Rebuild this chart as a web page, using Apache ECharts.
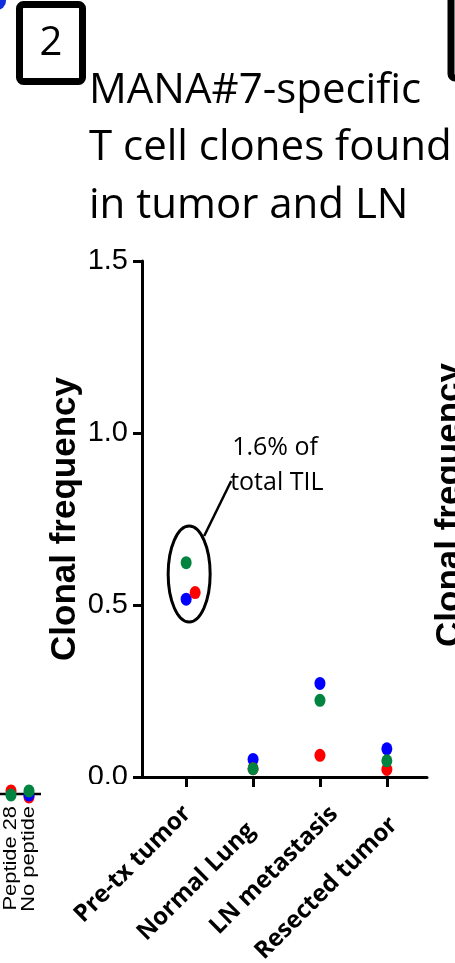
<!DOCTYPE html>
<html>
<head>
<meta charset="utf-8">
<script src="https://cdn.jsdelivr.net/npm/echarts@6/dist/echarts.min.js"></script>
<style>
html,body{margin:0;padding:0;background:#fff;}
#c{width:455px;height:963px;}
</style>
</head>
<body>
<div id="c"></div>
<script>
const categories = ['Pre-tx tumor', 'Normal Lung', 'LN metastasis', 'Resected tumor'];
const blueVals  = [0.517, 0.051, 0.272, 0.082];
const redVals   = [0.536, 0.024, 0.063, 0.022];
const greenVals = [0.623, 0.024, 0.223, 0.047];
const yTickLabels = ['0.0', '0.5', '1.0', '1.5'];
const titleLines = ['MANA#7-specific', 'T cell clones found', 'in tumor and LN'];
const noteLines = ['1.6% of', 'total TIL'];
const legendFragment = ['Peptide 28', 'No peptide'];

const BLUE = '#0000ff', RED = '#ff0000', GREEN = '#00843f';
const chart = echarts.init(document.getElementById('c'), null, {renderer: 'canvas'});

function pts(vals, offsets) {
  return vals.map((v, i) => {
    const item = {value: [i, v]};
    if (offsets && offsets[i]) item.symbolOffset = [offsets[i], 0];
    return item;
  });
}
const symSize = [11, 13];
const idx = categories.map((c, i) => i);
const narrow = '"Liberation Sans Narrow", "Arial Narrow", "Liberation Sans", Arial, sans-serif';
const labelFont = '"Open Sans", "Noto Sans", sans-serif';
// per-label nudges (padding) reproducing the irregular label placement of the source
const labelRich = {
  l0: {padding: [21, 9, 0, 0]},
  l1: {padding: [41, 23, 0, 0]},
  l2: {padding: [40, 0, 0, 0]},
  l3: {padding: [45, 13, 0, 0]}
};
Object.keys(labelRich).forEach(k => Object.assign(labelRich[k], {fontFamily: labelFont, fontWeight: 'bold', fontSize: 24, color: '#000'}));

chart.setOption({
  animation: false,
  backgroundColor: '#fff',
  grid: {left: 142, right: 28, top: 261, bottom: 186, containLabel: false, outerBoundsMode: 'none'},
  xAxis: {
    type: 'value', min: -0.66, max: 3.6,
    splitLine: {show: false},
    axisLine: {show: true, onZero: false, lineStyle: {color: '#000', width: 3}},
    axisTick: {show: true, customValues: idx, length: 10, inside: false, lineStyle: {color: '#000', width: 3}},
    axisLabel: {
      customValues: idx,
      formatter: v => { const i = Math.round(v); return '{l' + i + '|' + categories[i] + '}'; },
      rich: labelRich,
      rotate: 45, margin: 19,
      fontFamily: labelFont, fontWeight: 'bold', fontSize: 24, color: '#000'
    }
  },
  yAxis: {
    type: 'value', min: 0, max: 1.5, interval: 0.5,
    splitLine: {show: false},
    axisLine: {show: true, onZero: false, lineStyle: {color: '#000', width: 3}},
    axisTick: {show: true, length: 9, lineStyle: {color: '#000', width: 3}},
    axisLabel: {
      formatter: v => yTickLabels[Math.round(v / 0.5)],
      fontFamily: narrow, fontSize: 29, color: '#000', margin: 14
    },
    name: 'Clonal frequency', nameLocation: 'middle', nameRotate: 90, nameGap: 59,
    nameMoveOverlap: false,
    nameTextStyle: {fontFamily: '"Liberation Sans", Arial, sans-serif', fontWeight: 'bold', fontSize: 35, color: '#000'}
  },
  series: [
    {type: 'scatter', name: 'blue', data: pts(blueVals), symbol: 'circle', symbolSize: symSize, itemStyle: {color: BLUE, opacity: 1}, z: 3},
    {type: 'scatter', name: 'red', data: pts(redVals, [9, 0, 0, 0]), symbol: 'circle', symbolSize: symSize, itemStyle: {color: RED, opacity: 1}, z: 4},
    {type: 'scatter', name: 'green', data: pts(greenVals), symbol: 'circle', symbolSize: symSize, itemStyle: {color: GREEN, opacity: 1}, z: 5}
  ]
});

// annotation anchored to the Pre-tx tumor cluster
const anchor = chart.convertToPixel({gridIndex: 0}, [0, 0.59]);
const cx = anchor[0] + 3, cy = anchor[1];
const titleFont = '"Open Sans", "Noto Sans", sans-serif';

const graphics = [
  // top-left blue fragment
  {type: 'circle', shape: {cx: -3, cy: 1, r: 9}, style: {fill: '#1030e0'}},
  // boxed "2"
  {type: 'rect', shape: {x: 19.5, y: 4.5, width: 63, height: 77, r: 4}, style: {fill: '#fff', stroke: '#000', lineWidth: 7}},
  {type: 'text', x: 51, y: 44, style: {text: '2', font: '40px ' + titleFont, fill: '#000', align: 'center', verticalAlign: 'middle'}},
  // partial box at right edge
  {type: 'rect', shape: {x: 451, y: -10, width: 60, height: 88, r: 4}, style: {fill: '#fff', stroke: '#000', lineWidth: 7}},
  // partial y title of next panel
  {type: 'text', x: 450, y: 505, rotation: Math.PI / 2, style: {text: 'Clonal frequency', font: 'bold 35px "Liberation Sans", Arial, sans-serif', fill: '#000', align: 'center', verticalAlign: 'middle'}},
  // ellipse + connector
  {type: 'ellipse', shape: {cx: cx, cy: cy, rx: 21, ry: 48}, style: {fill: 'none', stroke: '#000', lineWidth: 3}, z: 10},
  {type: 'line', shape: {x1: cx + 15, y1: cy - 38, x2: cx + 42, y2: cy - 93}, style: {stroke: '#000', lineWidth: 2.5}, z: 10},
  // mask clipping the bottom of the 0.0 label as in the source image
  {type: 'rect', shape: {x: 60, y: 784, width: 70, height: 14}, style: {fill: '#fff'}, z: 20},
  // left legend fragment of the previous panel
  {type: 'line', shape: {x1: 0, y1: 794, x2: 41, y2: 794}, style: {stroke: '#000', lineWidth: 2.5}},
  {type: 'line', shape: {x1: 11, y1: 794, x2: 11, y2: 801}, style: {stroke: '#000', lineWidth: 2}},
  {type: 'line', shape: {x1: 29, y1: 794, x2: 29, y2: 801}, style: {stroke: '#000', lineWidth: 2}},
  {type: 'ellipse', shape: {cx: 11, cy: 791, rx: 5.5, ry: 6.5}, style: {fill: RED}},
  {type: 'ellipse', shape: {cx: 11, cy: 795, rx: 5.5, ry: 6.5}, style: {fill: GREEN}},
  {type: 'ellipse', shape: {cx: 29, cy: 797, rx: 5.5, ry: 6.5}, style: {fill: RED}},
  {type: 'ellipse', shape: {cx: 29, cy: 795, rx: 5.5, ry: 6.5}, style: {fill: BLUE}},
  {type: 'ellipse', shape: {cx: 29, cy: 791, rx: 5.5, ry: 6.5}, style: {fill: GREEN}},
  {type: 'text', x: 11, y: 806, rotation: Math.PI / 2, scaleX: 1.15, style: {text: legendFragment[0], font: '19px "Liberation Sans", Arial, sans-serif', fill: '#000', align: 'right', verticalAlign: 'middle'}},
  {type: 'text', x: 29, y: 806, rotation: Math.PI / 2, scaleX: 1.15, style: {text: legendFragment[1], font: '19px "Liberation Sans", Arial, sans-serif', fill: '#000', align: 'right', verticalAlign: 'middle'}}
];
titleLines.forEach((t, i) => {
  graphics.push({type: 'text', x: 89, y: 91 + i * 57.5, style: {text: t, font: '42px ' + titleFont, fill: '#000', align: 'left', verticalAlign: 'middle'}});
});
noteLines.forEach((t, i) => {
  graphics.push({type: 'text', x: cx + 43 - i * 2, y: cy - 126 + i * 35, style: {text: t, font: '25px ' + titleFont, fill: '#000', align: 'left', verticalAlign: 'middle'}, z: 10});
});
chart.setOption({graphic: graphics});
</script>
</body>
</html>
